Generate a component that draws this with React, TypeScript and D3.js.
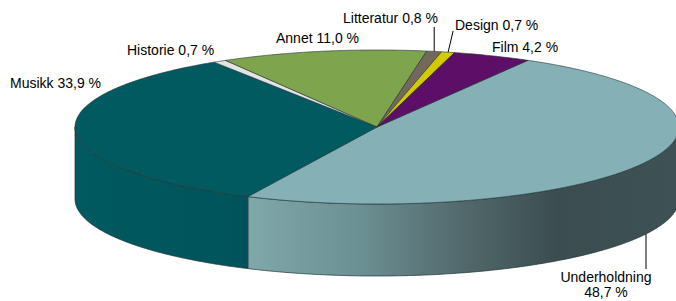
import React from "react";
import * as d3 from "d3";

// data
const categories = ["Underholdning", "Musikk", "Historie", "Annet", "Litteratur", "Design", "Film"];
const shares = [48.7, 33.9, 0.7, 11.0, 0.8, 0.7, 4.2];
const topColors = ["#85B1B6", "#005A5F", "#E4E4E4", "#7FA44E", "#73685A", "#D4CA00", "#5D0E66"];

// label placement (text anchor point, anchor, optional second line)
const labelLayout: Record<string, { x: number; y: number; anchor: string; lines?: number }> = {
  Musikk: { x: 10, y: 88, anchor: "start" },
  Historie: { x: 127, y: 55, anchor: "start" },
  Annet: { x: 276, y: 43, anchor: "start" },
  Litteratur: { x: 343, y: 23, anchor: "start" },
  Design: { x: 455, y: 30, anchor: "start" },
  Film: { x: 492, y: 52, anchor: "start" },
  Underholdning: { x: 606, y: 282, anchor: "middle", lines: 2 },
};

const W = 676, H = 301;
const cx = 377, cy = 127, rx = 302, ry = 77, depth = 72;

const px = (a: number) => cx + rx * Math.sin(a);
const py = (a: number) => cy - ry * Math.cos(a);

function arcPoints(a0: number, a1: number, dy = 0) {
  const n = Math.max(2, Math.ceil(Math.abs(a1 - a0) / 0.01));
  return d3.range(n + 1).map(i => {
    const a = a0 + (a1 - a0) * i / n;
    return [px(a), py(a) + dy] as [number, number];
  });
}

const fmt = (v: number) => v.toFixed(1).replace(".", ",") + " %";

export default function App() {
  const pie = d3.pie<number>().sort(null).value(d => d)
    .startAngle(Math.PI / 6).endAngle(Math.PI / 6 + 2 * Math.PI);
  const arcs = pie(shares);
  const line = d3.line();

  const tops = arcs.map((a, i) => {
    const pts = arcPoints(a.startAngle, a.endAngle);
    return { d: "M" + cx + "," + cy + "L" + pts.map(p => p.join(",")).join("L") + "Z", fill: topColors[i] };
  });

  // only the front half of the rim is visible
  const sides = arcs.map((a, i) => {
    const s = Math.max(a.startAngle, Math.PI / 2);
    const e = Math.min(a.endAngle, 3 * Math.PI / 2);
    if (e <= s) return null;
    const upper = arcPoints(s, e);
    const lower = arcPoints(e, s, depth);
    return { d: line([...upper, ...lower]) + "Z", i };
  }).filter(Boolean) as { d: string; i: number }[];

  const sideFill = (i: number) => categories[i] === "Underholdning" ? "url(#gUnder)" : categories[i] === "Musikk" ? "url(#gMusikk)" : topColors[i];

  const stroke = "#1f3435";
  const font = "'Liberation Sans', Arial, sans-serif";

  const litArc = arcs[categories.indexOf("Litteratur")];
  const desArc = arcs[categories.indexOf("Design")];
  const litMid = (litArc.startAngle + litArc.endAngle) / 2;
  const desMid = (desArc.startAngle + desArc.endAngle) / 2;
  const undX = 646;

  return (
    <svg width={W} height={H} style={{ position: "absolute", left: 0, top: 0 }}>
      <defs>
        <linearGradient id="gUnder" gradientUnits="userSpaceOnUse" x1={248} x2={676} y1={0} y2={0}>
          <stop offset="0" stopColor="#80A7AA" />
          <stop offset="0.25" stopColor="#6C9194" />
          <stop offset="0.5" stopColor="#52696C" />
          <stop offset="0.72" stopColor="#3B4D50" />
          <stop offset="1" stopColor="#3E5154" />
        </linearGradient>
        <linearGradient id="gMusikk" gradientUnits="userSpaceOnUse" x1={75} x2={248} y1={0} y2={0}>
          <stop offset="0" stopColor="#005A5F" />
          <stop offset="1" stopColor="#00535A" />
        </linearGradient>
      </defs>
      {sides.map(s => (
        <path key={"s" + s.i} d={s.d} fill={sideFill(s.i)} stroke={stroke} strokeWidth={0.7} strokeLinejoin="round" />
      ))}
      {tops.map((t, i) => (
        <path key={"t" + i} d={t.d} fill={t.fill} stroke={stroke} strokeWidth={0.6} strokeLinejoin="round" />
      ))}
      {/* leader lines */}
      <line x1={px(litMid)} y1={py(litMid)} x2={px(litMid)} y2={27} stroke="#000" strokeWidth={1} />
      <line x1={px(desMid)} y1={py(desMid)} x2={px(desMid) + 5} y2={31} stroke="#000" strokeWidth={1} />
      <line x1={undX} y1={cy + ry * Math.sqrt(1 - ((undX - cx) / rx) ** 2) + depth} x2={undX} y2={269} stroke="#000" strokeWidth={1} />
      {categories.map((c, i) => {
        const l = labelLayout[c];
        if (l.lines === 2) {
          return (
            <g key={c}>
              <text x={l.x} y={l.y} textAnchor={l.anchor} fontFamily={font} fontSize={14} fill="#000">{c}</text>
              <text x={l.x} y={l.y + 15} textAnchor={l.anchor} fontFamily={font} fontSize={14} fill="#000">{fmt(shares[i])}</text>
            </g>
          );
        }
        return (
          <text key={c} x={l.x} y={l.y} textAnchor={l.anchor} fontFamily={font} fontSize={14} fill="#000">
            {c + " " + fmt(shares[i])}
          </text>
        );
      })}
    </svg>
  );
}
